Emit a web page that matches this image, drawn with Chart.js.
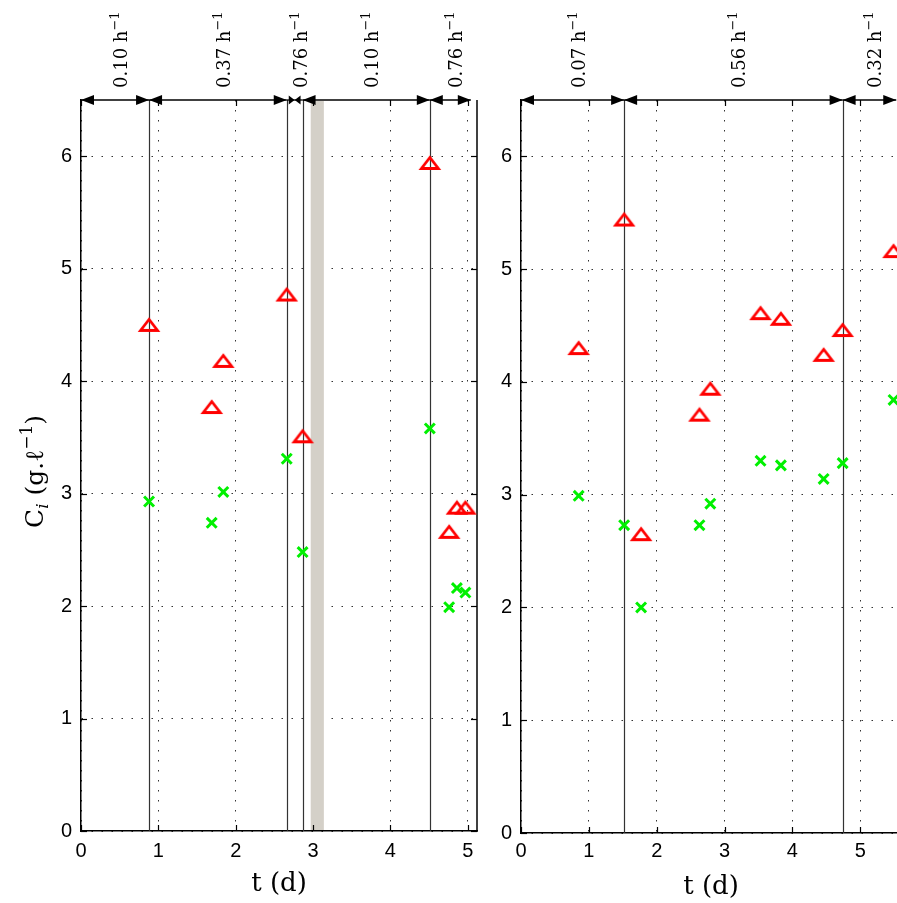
<!DOCTYPE html>
<html>
<head>
<meta charset="utf-8">
<script src="https://cdn.jsdelivr.net/npm/chart.js@4.4.1/dist/chart.umd.min.js"></script>
<style>
	html, body { margin:0; padding:0; background:#fff; width:897px; height:903px; overflow:hidden; }
	canvas { position:absolute; top:0; }
	#left  { left:0; }
	#right { left:440px; }
</style>
</head>
<body>
<canvas id="left" width="480" height="903"></canvas>
<canvas id="right" width="465" height="903"></canvas>
<script>
// ---- data ----
// left run: sample times (d), red triangles, green crosses
var leftTimes  = [0.88, 1.69, 1.84, 2.66, 2.865, 4.51, 4.76, 4.86, 4.97];
var leftRed    = [4.50, 3.77, 4.18, 4.77, 3.51, 5.94, 2.66, 2.875, 2.875];
var leftGreen  = [2.93, 2.74, 3.015, 3.31, 2.48, 3.58, 1.99, 2.16, 2.12];
// dilution-rate phases: boundaries (d) and rate labels (h^-1)
var leftPhases = [0, 0.88, 2.66, 2.865, 4.51, 5.04];
var leftRates  = ['0.10', '0.37', '0.76', '0.10', '0.76'];
var leftGap    = [2.97, 3.14];

// right run
var rightTimes  = [0.85, 1.52, 1.77, 2.63, 2.79, 3.53, 3.83, 4.46, 4.74, 5.49];
var rightRed    = [4.30, 5.44, 2.65, 3.71, 3.94, 4.61, 4.56, 4.24, 4.46, 5.16];
var rightGreen  = [2.99, 2.73, 2.00, 2.73, 2.92, 3.30, 3.26, 3.14, 3.28, 3.84];
var rightPhases = [0, 1.52, 4.74, 5.53];
var rightRates  = ['0.07', '0.56', '0.32'];

var xTitle = 't (d)';
var rateUnit = ' h';
var SERIF = '"DejaVu Serif", serif';
var SANS  = '"Liberation Sans", Arial, sans-serif';

function points(xs, ys){
	return xs.map(function(x, i){ return { x: x, y: ys[i] }; });
}

// matlab-like open triangle, a bit flatter than the built-in one
function triangleMarker(){
	var c = document.createElement('canvas');
	c.width = 26; c.height = 22;
	var g = c.getContext('2d');
	g.strokeStyle = '#ff0000';
	g.lineWidth = 2.8;
	g.lineJoin = 'miter';
	g.beginPath();
	g.moveTo(13, 5.5);
	g.lineTo(4.5, 16.5);
	g.lineTo(21.5, 16.5);
	g.closePath();
	g.stroke();
	return c;
}
var TRI = triangleMarker();

// draw pieces of text (normal / sub / sup) one after the other on the current x axis
function richText(ctx, parts, align){
	var widths = parts.map(function(p){
		ctx.font = (p.it ? 'italic ' : '') + p.s + 'px ' + SERIF;
		return ctx.measureText(p.t).width;
	});
	var total = widths.reduce(function(m, w){ return m + w; }, 0);
	var cx = (align === 'center') ? -total / 2 : 0;
	parts.forEach(function(p, i){
		ctx.font = (p.it ? 'italic ' : '') + p.s + 'px ' + SERIF;
		ctx.fillText(p.t, cx, p.dy || 0);
		cx += widths[i];
	});
}

function head(ctx, tipX, y, dir, len, hw){
	ctx.beginPath();
	ctx.moveTo(tipX, y);
	ctx.lineTo(tipX - dir * len, y - hw);
	ctx.lineTo(tipX - dir * len, y + hw);
	ctx.closePath();
	ctx.fill();
}

var phasePlugin = {
	id: 'phases',
	beforeDatasetsDraw: function(chart, args, o){
		var ctx = chart.ctx, a = chart.chartArea,
			xs = chart.scales.x, ys = chart.scales.y, i, x, y;
		ctx.save();

		// gap in the run (grey band)
		if (o.gap) {
			var g0 = xs.getPixelForValue(o.gap[0]), g1 = xs.getPixelForValue(o.gap[1]);
			ctx.fillStyle = '#d4d0c8';
			ctx.fillRect(g0, a.top + 1, g1 - g0, a.bottom - a.top - 2);
		}

		// phase switch lines
		ctx.strokeStyle = '#333';
		ctx.lineWidth = 1.2;
		for (i = 1; i < o.bounds.length - 1; i++) {
			x = Math.round(xs.getPixelForValue(o.bounds[i])) + 0.5;
			ctx.beginPath(); ctx.moveTo(x, a.top); ctx.lineTo(x, a.bottom); ctx.stroke();
		}

		// box: right border + inward ticks
		ctx.strokeStyle = '#000';
		ctx.lineWidth = 1.5;
		if (o.rightBorder) {
			ctx.beginPath(); ctx.moveTo(a.right, a.top); ctx.lineTo(a.right, a.bottom + 0.75); ctx.stroke();
		}
		ctx.lineWidth = 1.2;
		ys.ticks.forEach(function(t){
			y = Math.round(ys.getPixelForValue(t.value)) + 0.5;
			ctx.beginPath(); ctx.moveTo(a.left, y); ctx.lineTo(a.left + 6, y); ctx.stroke();
			if (o.rightBorder) {
				ctx.beginPath(); ctx.moveTo(a.right, y); ctx.lineTo(a.right - 6, y); ctx.stroke();
			}
		});
		xs.ticks.forEach(function(t){
			x = Math.round(xs.getPixelForValue(t.value)) + 0.5;
			ctx.beginPath(); ctx.moveTo(x, a.bottom); ctx.lineTo(x, a.bottom - 6); ctx.stroke();
			ctx.beginPath(); ctx.moveTo(x, a.top); ctx.lineTo(x, a.top + 6); ctx.stroke();
		});
		ctx.restore();
	},
	afterDraw: function(chart, args, o){
		var ctx = chart.ctx, a = chart.chartArea, xs = chart.scales.x,
			y = a.top, i, x0, x1, m;
		ctx.save();
		ctx.strokeStyle = '#000';
		ctx.fillStyle = '#000';
		ctx.lineWidth = 1.3;

		for (i = 0; i < o.rates.length; i++) {
			x0 = xs.getPixelForValue(o.bounds[i]);
			x1 = xs.getPixelForValue(o.bounds[i + 1]);
			m = (x0 + x1) / 2;

			// double arrow
			ctx.beginPath(); ctx.moveTo(x0, y); ctx.lineTo(x1, y); ctx.stroke();
			if (x1 - x0 > 30) {
				head(ctx, x0, y, -1, 13, 5);
				head(ctx, x1, y, 1, 13, 5);
			} else {
				// too short : heads turn inward
				head(ctx, m, y, 1, m - x0 - 2, 4.5);
				head(ctx, m, y, -1, x1 - m - 2, 4.5);
			}

			// rate label, rotated
			ctx.save();
			ctx.translate(m + 12, y - 12);
			ctx.rotate(-Math.PI / 2);
			ctx.textAlign = 'left';
			ctx.textBaseline = 'alphabetic';
			richText(ctx, [
				{ t: o.rates[i] + rateUnit, s: 18 },
				{ t: '\u22121', s: 13, dy: -8 }
			], 'left');
			ctx.restore();
		}

		// y axis title C_i (g.l^-1)
		if (o.yTitle) {
			ctx.save();
			ctx.translate(43, (a.top + a.bottom) / 2 + 6);
			ctx.rotate(-Math.PI / 2);
			ctx.textAlign = 'left';
			ctx.textBaseline = 'alphabetic';
			richText(ctx, [
				{ t: 'C', s: 25 },
				{ t: 'i', s: 17, it: true, dy: 5 },
				{ t: ' (g.\u2113', s: 25 },
				{ t: '\u22121', s: 17, dy: -11 },
				{ t: ')', s: 25 }
			], 'center');
			ctx.restore();
		}
		ctx.restore();
	}
};

function makeChart(id, times, red, green, xmax, pad, xh, tickPad, titlePad, phaseOpts){
	return new Chart(document.getElementById(id), {
		type: 'scatter',
		data: {
			datasets: [{
				data: points(times, red),
				pointStyle: TRI,
				pointRadius: 10,
				backgroundColor: 'rgba(0,0,0,0)',
				borderColor: '#ff0000'
			}, {
				data: points(times, green),
				pointStyle: 'crossRot',
				pointRadius: 7,
				borderWidth: 3,
				backgroundColor: 'rgba(0,0,0,0)',
				borderColor: '#00f000'
			}]
		},
		options: {
			responsive: false,
			animation: false,
			devicePixelRatio: 1,
			// no extra room for the big markers, the box is fixed
			layout: { padding: pad, autoPadding: false },
			plugins: {
				legend: { display: false },
				tooltip: { enabled: false },
				phases: phaseOpts
			},
			scales: {
				x: {
					type: 'linear',
					min: 0, max: xmax,
					afterFit: function(s){ s.height = xh; s.paddingLeft = 0; s.paddingRight = 0; },
					ticks: { stepSize: 1, includeBounds: false, padding: tickPad, color: '#000',
						font: { family: SANS, size: 20 } },
					grid: { color: '#333', lineWidth: 1, drawTicks: false },
					border: { display: true, color: '#000', width: 1.5, dash: [1.5, 8.5] },
					title: { display: true, text: xTitle, color: '#000',
						font: { family: SERIF, size: 26 }, padding: { top: 0, bottom: titlePad } }
				},
				y: {
					type: 'linear',
					min: 0, max: 6.5,
					afterFit: function(s){ s.width = 81; s.paddingTop = 0; s.paddingBottom = 0; },
					ticks: { stepSize: 1, includeBounds: false, padding: 9, color: '#000',
						font: { family: SANS, size: 20 } },
					grid: { color: '#333', lineWidth: 1, drawTicks: false },
					border: { display: true, color: '#000', width: 1.5, dash: [1.5, 8.5] }
				}
			}
		},
		plugins: [phasePlugin]
	});
}

makeChart('left', leftTimes, leftRed, leftGreen, 5.12,
	{ top: 100, right: 3, bottom: 0, left: 0 }, 72, 8, 3,
	{ bounds: leftPhases, rates: leftRates, gap: leftGap, yTitle: true, rightBorder: true });

makeChart('right', rightTimes, rightRed, rightGreen, 5.6,
	{ top: 100, right: 4, bottom: 0, left: 0 }, 70, 6, 0,
	{ bounds: rightPhases, rates: rightRates, gap: null, yTitle: false, rightBorder: false });
</script>
</body>
</html>
